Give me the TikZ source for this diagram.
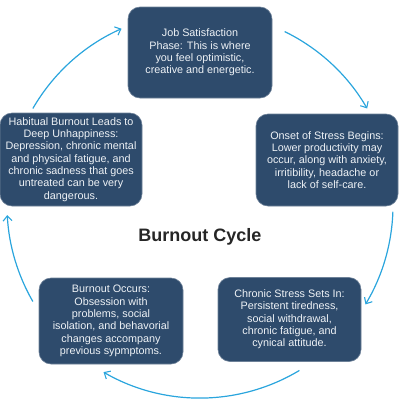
\documentclass[tikz,border=0pt]{standalone}
\usepackage{fontspec}
\setmainfont{Liberation Sans}
\usetikzlibrary{arrows.meta}
\definecolor{boxblue}{HTML}{2E4B6C}
\definecolor{arrowblue}{HTML}{2AA5DD}
\definecolor{txt}{HTML}{EEF2F6}
\begin{document}
\begin{tikzpicture}[x=1pt,y=-1pt,
  stagebox/.style={fill=boxblue, draw=boxblue!70!white, line width=0.6pt, rounded corners=12pt, text=txt, align=center,
    font=\fontsize{10.8}{12.3}\selectfont, inner sep=0pt},
  cyc/.style={draw=arrowblue, line width=1.2pt, -{Straight Barb[length=5pt,width=9pt,line width=1.1pt]}}]
\useasboundingbox (0,0) rectangle (400,405);
\coordinate (c) at (200,205);
\node[stagebox, minimum width=144pt, minimum height=91pt] (top) at (200,52.5)
  {Job Satisfaction\\Phase: This is where\\you feel optimistic,\\creative and energetic.};
\node[stagebox, minimum width=142pt, minimum height=92pt] (right) at (327,160)
  {Onset of Stress Begins:\\Lower productivity may\\occur, along with anxiety,\\irritibility, headache or\\lack of self-care.};
\node[stagebox, minimum width=142pt, minimum height=93pt] (left) at (71,159.5)
  {Habitual Burnout Leads to\\Deep Unhappiness:\\Depression, chronic mental\\and physical fatigue, and\\chronic sadness that goes\\untreated can be very\\dangerous.};
\node[stagebox, minimum width=143pt, minimum height=84pt] (br) at (289.5,319.5)
  {Chronic Stress Sets In:\\Persistent tiredness,\\social withdrawal,\\chronic fatigue, and\\cynical attitude.};
\node[stagebox, minimum width=144pt, minimum height=86pt] (bl) at (111,321)
  {Burnout Occurs:\\Obsession with\\problems, social\\isolation, and behavorial\\changes accompany\\previous sypmptoms.};
\node[font=\bfseries\fontsize{18}{20}\selectfont, text=black!85] (title) at (200,237) {Burnout Cycle};
\draw[cyc] (c) ++(-150:193) arc[start angle=-150, end angle=-114, radius=193];
\draw[cyc] (c) ++(-64:193) arc[start angle=-64, end angle=-30, radius=193];
\draw[cyc] (c) ++(2:193) arc[start angle=2, end angle=31, radius=193];
\draw[cyc] (c) ++(59:193) arc[start angle=59, end angle=120, radius=193];
\draw[cyc] (c) ++(150:193) arc[start angle=150, end angle=177, radius=193];
\end{tikzpicture}
\end{document}
